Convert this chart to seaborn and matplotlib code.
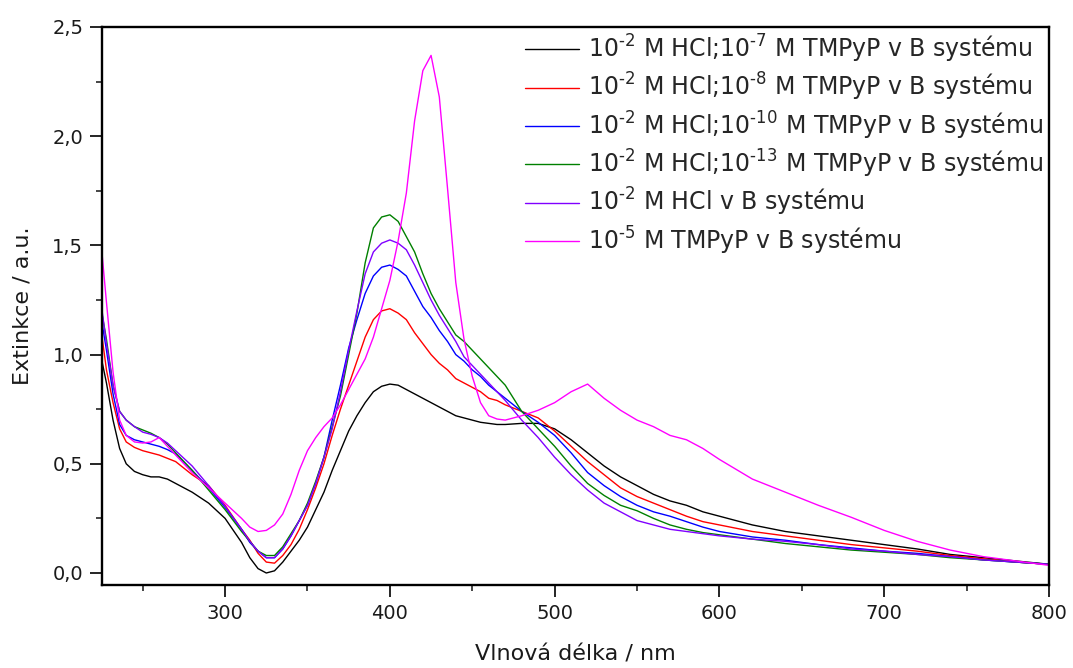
import numpy as np
import pandas as pd
import matplotlib
matplotlib.use("Agg")
import matplotlib.pyplot as plt
from matplotlib.ticker import MultipleLocator, FuncFormatter
import seaborn as sns

wavelength = [225, 228, 232, 236, 240, 245, 250, 255, 260, 265, 270, 280, 290, 300,
              310, 315, 320, 325, 330, 335, 340, 345, 350, 355, 360, 365, 370, 375,
              380, 385, 390, 395, 400, 405, 410, 415, 420, 425, 430, 435, 440, 445,
              450, 455, 460, 465, 470, 480, 490, 500, 510, 520, 530, 540, 550, 560,
              570, 580, 590, 600, 620, 640, 660, 680, 700, 720, 740, 760, 780, 800]

hcl_tmpyp_7 = [0.98, 0.87, 0.70, 0.57, 0.50, 0.465, 0.45, 0.44, 0.44, 0.43, 0.41, 0.37, 0.32, 0.25,
               0.14, 0.07, 0.02, 0.00, 0.01, 0.05, 0.10, 0.15, 0.21, 0.29, 0.37, 0.47, 0.56, 0.65,
               0.72, 0.78, 0.83, 0.855, 0.865, 0.86, 0.84, 0.82, 0.80, 0.78, 0.76, 0.74, 0.72, 0.71,
               0.70, 0.69, 0.685, 0.68, 0.68, 0.685, 0.685, 0.66, 0.61, 0.55, 0.49, 0.44, 0.40, 0.36,
               0.33, 0.31, 0.28, 0.26, 0.22, 0.19, 0.17, 0.15, 0.13, 0.11, 0.085, 0.07, 0.055, 0.04]

hcl_tmpyp_8 = [1.10, 0.93, 0.78, 0.66, 0.60, 0.575, 0.56, 0.55, 0.54, 0.525, 0.51, 0.45, 0.40, 0.31,
               0.20, 0.15, 0.09, 0.05, 0.045, 0.08, 0.13, 0.20, 0.29, 0.39, 0.50, 0.63, 0.75, 0.86,
               0.97, 1.08, 1.16, 1.20, 1.21, 1.19, 1.16, 1.10, 1.05, 1.00, 0.96, 0.93, 0.89, 0.87,
               0.85, 0.83, 0.80, 0.79, 0.77, 0.74, 0.71, 0.65, 0.58, 0.51, 0.45, 0.39, 0.35, 0.32,
               0.29, 0.26, 0.235, 0.22, 0.19, 0.17, 0.15, 0.13, 0.115, 0.10, 0.08, 0.065, 0.05, 0.04]

hcl_tmpyp_10 = [1.16, 1.02, 0.82, 0.68, 0.63, 0.61, 0.60, 0.59, 0.58, 0.565, 0.545, 0.47, 0.39, 0.30,
                0.20, 0.14, 0.10, 0.07, 0.07, 0.11, 0.17, 0.24, 0.31, 0.41, 0.53, 0.70, 0.86, 1.03,
                1.16, 1.28, 1.36, 1.40, 1.41, 1.39, 1.36, 1.29, 1.22, 1.17, 1.11, 1.06, 1.00, 0.97,
                0.93, 0.90, 0.86, 0.83, 0.80, 0.74, 0.69, 0.63, 0.55, 0.46, 0.40, 0.35, 0.31, 0.28,
                0.26, 0.235, 0.21, 0.19, 0.165, 0.15, 0.13, 0.115, 0.10, 0.09, 0.075, 0.06, 0.05, 0.04]

hcl_tmpyp_13 = [1.20, 1.07, 0.86, 0.74, 0.70, 0.67, 0.655, 0.64, 0.62, 0.59, 0.55, 0.47, 0.38, 0.29,
                0.19, 0.145, 0.10, 0.08, 0.08, 0.12, 0.18, 0.24, 0.32, 0.42, 0.53, 0.67, 0.81, 1.00,
                1.19, 1.42, 1.58, 1.63, 1.64, 1.61, 1.54, 1.47, 1.37, 1.28, 1.21, 1.15, 1.09, 1.06,
                1.02, 0.98, 0.94, 0.90, 0.86, 0.74, 0.66, 0.58, 0.49, 0.41, 0.355, 0.31, 0.285, 0.25,
                0.22, 0.20, 0.185, 0.175, 0.155, 0.135, 0.12, 0.105, 0.095, 0.085, 0.07, 0.06, 0.05, 0.04]

hcl_only = [1.22, 1.05, 0.86, 0.74, 0.70, 0.67, 0.645, 0.635, 0.62, 0.595, 0.56, 0.49, 0.40, 0.305,
            0.20, 0.145, 0.10, 0.07, 0.07, 0.11, 0.17, 0.24, 0.31, 0.41, 0.53, 0.66, 0.83, 1.02,
            1.20, 1.37, 1.47, 1.51, 1.525, 1.51, 1.48, 1.41, 1.33, 1.25, 1.18, 1.12, 1.06, 0.99,
            0.95, 0.91, 0.87, 0.83, 0.79, 0.70, 0.62, 0.53, 0.45, 0.38, 0.32, 0.28, 0.24, 0.22,
            0.20, 0.19, 0.18, 0.17, 0.155, 0.145, 0.13, 0.11, 0.10, 0.085, 0.075, 0.06, 0.05, 0.04]

tmpyp_only = [1.49, 1.24, 0.92, 0.70, 0.63, 0.60, 0.595, 0.60, 0.62, 0.58, 0.54, 0.46, 0.39, 0.32,
              0.25, 0.21, 0.19, 0.195, 0.22, 0.27, 0.36, 0.47, 0.56, 0.62, 0.67, 0.71, 0.77, 0.84,
              0.91, 0.98, 1.08, 1.21, 1.34, 1.52, 1.74, 2.07, 2.30, 2.37, 2.18, 1.76, 1.33, 1.07,
              0.90, 0.78, 0.72, 0.705, 0.70, 0.72, 0.745, 0.78, 0.83, 0.865, 0.80, 0.745, 0.70, 0.67,
              0.63, 0.61, 0.57, 0.52, 0.43, 0.37, 0.31, 0.255, 0.195, 0.145, 0.105, 0.075, 0.055, 0.035]

series_labels = [
    r"10$^{\text{-2}}$ M HCl;10$^{\text{-7}}$ M TMPyP v B systému",
    r"10$^{\text{-2}}$ M HCl;10$^{\text{-8}}$ M TMPyP v B systému",
    r"10$^{\text{-2}}$ M HCl;10$^{\text{-10}}$ M TMPyP v B systému",
    r"10$^{\text{-2}}$ M HCl;10$^{\text{-13}}$ M TMPyP v B systému",
    r"10$^{\text{-2}}$ M HCl v B systému",
    r"10$^{\text{-5}}$ M TMPyP v B systému",
]
series_values = [hcl_tmpyp_7, hcl_tmpyp_8, hcl_tmpyp_10, hcl_tmpyp_13, hcl_only, tmpyp_only]
colors = ["#000000", "#ff0000", "#0000ff", "#008000", "#8000ff", "#ff00ff"]

x_ticks = [300, 400, 500, 600, 700, 800]
y_ticks = [0.0, 0.5, 1.0, 1.5, 2.0, 2.5]

frames = []
for lab, vals in zip(series_labels, series_values):
    frames.append(pd.DataFrame({"wl": wavelength, "ext": vals, "series": lab}))
df = pd.concat(frames, ignore_index=True)

sns.set_style("ticks")
plt.rcParams["font.family"] = ["DejaVu Sans"]
plt.rcParams["mathtext.fontset"] = "dejavusans"

fig = plt.figure(figsize=(10.73, 6.68), dpi=100)
ax = fig.add_axes([102 / 1073, 1 - 585 / 668, (1049 - 102) / 1073, (585 - 27) / 668])

sns.lineplot(data=df, x="wl", y="ext", hue="series", hue_order=series_labels,
             palette=colors, estimator=None, sort=False, linewidth=1.0, ax=ax)

ax.set_xlim(225.3, 800)
ax.set_ylim(-0.055, 2.5)
ax.set_xticks(x_ticks)
ax.set_yticks(y_ticks)
ax.xaxis.set_minor_locator(MultipleLocator(50))
ax.yaxis.set_minor_locator(MultipleLocator(0.25))
ax.yaxis.set_major_formatter(FuncFormatter(lambda v, p: f"{v:.1f}".replace(".", ",")))
ax.tick_params(which="major", direction="out", length=8.5, width=1.2, labelsize=14,
               pad=5, colors="black", labelcolor="#1a1a1a")
ax.tick_params(which="minor", direction="out", length=4.3, width=1.2)
ax.tick_params(top=False, right=False, which="both")
for sp in ax.spines.values():
    sp.set_linewidth(1.7)
    sp.set_visible(True)
    sp.set_color("black")

ax.set_xlabel("Vlnová délka / nm", fontsize=16, labelpad=16, color="#1a1a1a")
ax.set_ylabel("Extinkce / a.u.", fontsize=16, labelpad=14, color="#1a1a1a")

handles, labels = ax.get_legend_handles_labels()
ax.legend(handles, labels, loc="upper right", bbox_to_anchor=(1.0, 1.0), frameon=False,
          fontsize=17, handlelength=2.3, handletextpad=0.35, labelspacing=0.26,
          borderaxespad=0.0, borderpad=0.25)

fig.savefig("out.png", dpi=100)
